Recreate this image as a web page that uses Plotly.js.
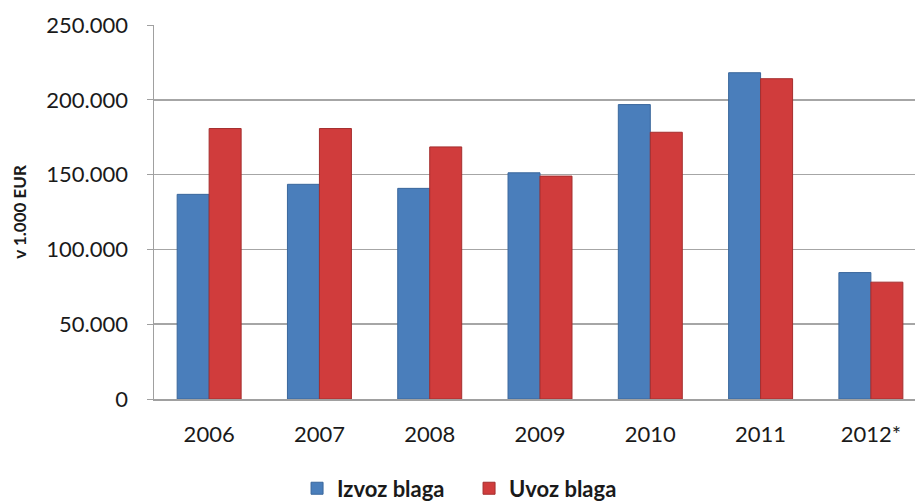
<!DOCTYPE html>
<html><head><meta charset="utf-8">
<script src="https://cdn.plot.ly/plotly-3.0.1.min.js"></script>
<style>html,body{margin:0;padding:0;background:#fff}#c{width:915px;height:502px}</style>
</head><body><div id="c"></div>
<script>
var years = ['2006','2007','2008','2009','2010','2011','2012*'];
var izvoz = [136.8, 143.5, 140.8, 151.2, 196.8, 218.1, 84.5];
var uvoz  = [180.8, 180.8, 168.5, 149.0, 178.3, 214.1, 78.1];
var seriesNames = ['Izvoz blaga', 'Uvoz blaga'];
var yTickVals = [0, 50, 100, 150, 200, 250];
var yTickText = ['0', '50.000', '100.000', '150.000', '200.000', '250.000'];

var font = 'Lato, "Open Sans", sans-serif';
var traces = [
  {type:'bar', x:years, y:izvoz, name:seriesNames[0],
   marker:{color:'#4a7ebb', line:{color:'#3a679c', width:1}}},
  {type:'bar', x:years, y:uvoz, name:seriesNames[1],
   marker:{color:'#d03c3c', line:{color:'#a52e2e', width:1}}}
];
var layout = {
  width:915, height:502,
  margin:{l:154, r:0, t:24.5, b:102.5, autoexpand:false},
  paper_bgcolor:'#fff', plot_bgcolor:'#fff',
  barmode:'group', bargap:0.42, bargroupgap:0,
  font:{family:font, size:22, color:'#1a1a1a'},
  xaxis:{type:'category', range:[-0.5, 6.4], showgrid:false, automargin:false,
         showline:true, linecolor:'#a0a0a0', linewidth:1.5,
         ticks:'', tickfont:{size:22, family:font}, ticklabelstandoff:15},
  yaxis:{range:[0,250], tickvals:yTickVals, ticktext:yTickText, automargin:true,
         showgrid:true, gridcolor:'#a6a6a6', gridwidth:1.5,
         showline:true, linecolor:'#a0a0a0', linewidth:1.5,
         ticks:'outside', ticklen:6, tickcolor:'#a0a0a0',
         tickfont:{size:22, family:font}, zeroline:false, ticklabelstandoff:14,
         title:{text:'<b>v 1.000 EUR</b>', font:{size:17, family:font}, standoff:15}},
  showlegend:true,
  legend:{orientation:'h', x:0.414, xanchor:'center', yref:'container', y:0.027, yanchor:'middle',
          font:{size:22, family:font, weight:'bold'}, traceorder:'normal', itemwidth:30,
          entrywidth:127}
};
Plotly.newPlot('c', traces, layout, {displayModeBar:false, staticPlot:true});
</script>
</body></html>
